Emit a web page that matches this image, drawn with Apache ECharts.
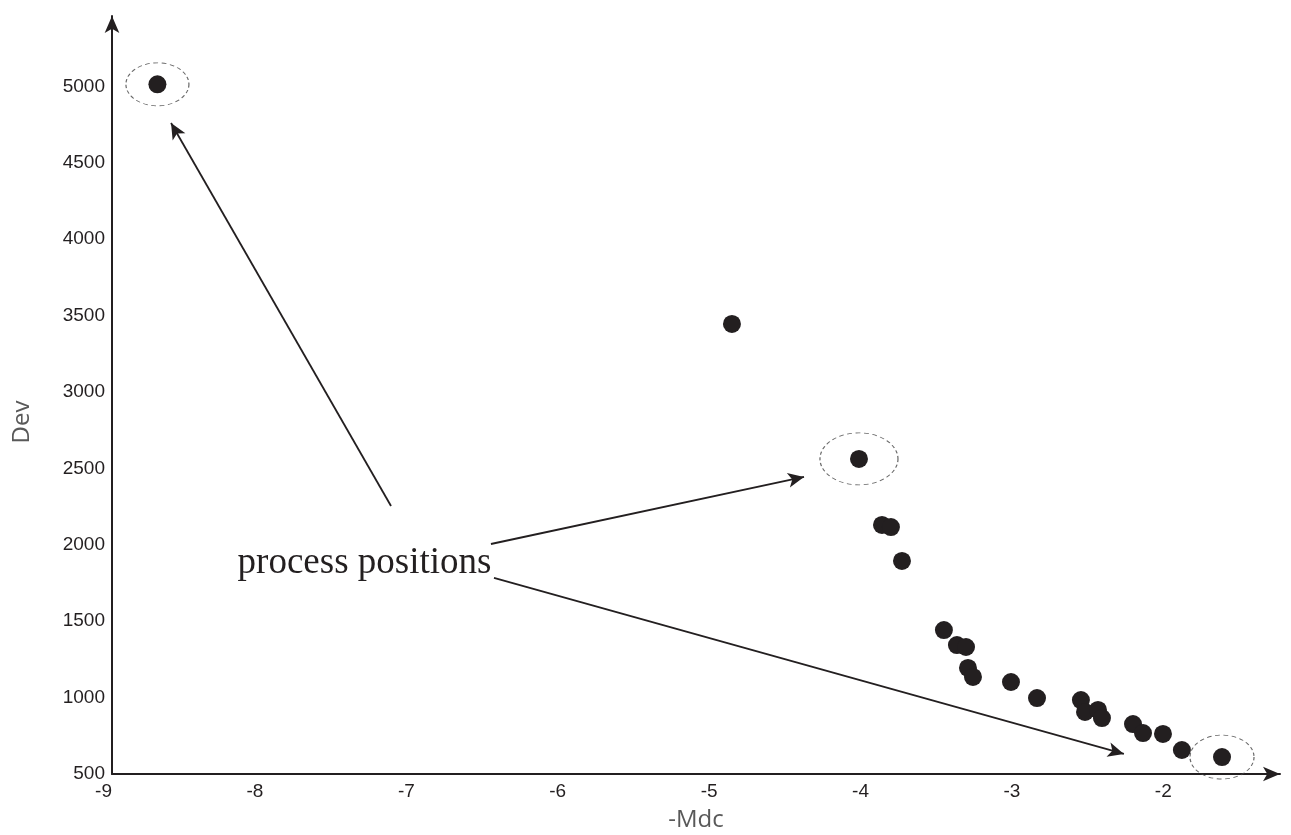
<!DOCTYPE html>
<html>
<head>
<meta charset="utf-8">
<script src="https://cdn.jsdelivr.net/npm/echarts@6/dist/echarts.min.js"></script>
<style>
html,body{margin:0;padding:0;background:#fff;}
#chart{width:1291px;height:835px;}
</style>
</head>
<body>
<div id="chart"></div>
<script>
// ---- data ----
var mdc = [-8.70, -4.905, -4.066, -3.914, -3.855, -3.782, -3.505, -3.419, -3.359, -3.346, -3.313,
           -3.062, -2.890, -2.600, -2.573, -2.487, -2.461, -2.256, -2.190, -2.058, -1.933, -1.668];
var dev = [5013, 3445, 2562, 2130, 2116, 1894, 1442, 1344, 1331, 1194, 1135,
           1102, 997, 984, 906, 919, 866, 827, 768, 762, 657, 611];
// indices of the circled "process positions" points
var circled = [0, 2, 21];
var annotationText = 'process positions';
var annotationAt = [-7.332, 1881];
// arrows: start and end points in data units
var arrowStarts = [[-7.157, 2254], [-6.497, 2005], [-6.477, 1783]];
var arrowEnds = [[-8.610, 4760], [-4.429, 2444], [-2.316, 631]];
var xTicks = [-9, -8, -7, -6, -5, -4, -3, -2];
var yTicks = [500, 1000, 1500, 2000, 2500, 3000, 3500, 4000, 4500, 5000];
var xName = '-Mdc';
var yName = 'Dev';

// ---- build ----
var points = mdc.map(function (x, i) { return [x, dev[i]]; });
var ellipseSizes = [[63, 43], [78, 52], [64, 44]];
var ellipses = circled.map(function (idx, k) {
  return { value: points[idx], symbolSize: ellipseSizes[k] };
});
var arrows = arrowStarts.map(function (s, i) {
  return [{ coord: s }, { coord: arrowEnds[i] }];
});

var chart = echarts.init(document.getElementById('chart'), null, { renderer: 'canvas' });
var axisColor = '#231f20';
var labelFont = "'Liberation Sans', Arial, Helvetica, sans-serif";
chart.setOption({
  animation: false,
  backgroundColor: '#ffffff',
  grid: { left: 112, right: 11, top: 16, bottom: 61, containLabel: false, outerBoundsMode: 'none' },
  xAxis: {
    type: 'value', min: -9, max: -1.285, interval: 1,
    axisLine: { show: true, lineStyle: { color: axisColor, width: 2 }, symbol: ['none', 'arrow'], symbolSize: [11, 17] },
    axisTick: { show: false },
    splitLine: { show: false },
    axisLabel: {
      color: axisColor, fontFamily: labelFont, fontSize: 19,
      align: 'right', margin: 8,
      customValues: xTicks,
      formatter: function (v) { return String(v); }
    },
    name: xName, nameLocation: 'middle', nameGap: 34,
    nameTextStyle: { color: '#595959', fontFamily: "'Open Sans', sans-serif", fontSize: 24 }
  },
  yAxis: {
    type: 'value', min: 500, max: 5460, interval: 500,
    axisLine: { show: true, lineStyle: { color: axisColor, width: 2 }, symbol: ['none', 'arrow'], symbolSize: [11, 17] },
    axisTick: { show: false },
    splitLine: { show: false },
    axisLabel: {
      color: axisColor, fontFamily: labelFont, fontSize: 19,
      margin: 7,
      customValues: yTicks,
      formatter: function (v) { return String(v); }
    }
  },
  graphic: [{
    type: 'text', x: 22, y: 422, rotation: Math.PI / 2,
    style: { text: yName, fill: '#595959', font: "24px 'Open Sans', sans-serif", align: 'center', verticalAlign: 'middle' }
  }],
  series: [{
    type: 'scatter',
    data: points,
    symbol: 'circle',
    symbolSize: 18,
    itemStyle: { color: '#231f20', opacity: 1 },
    z: 3
  }, {
    type: 'scatter',
    data: ellipses,
    symbol: 'circle',
    itemStyle: { color: 'rgba(0,0,0,0)', borderColor: '#444', borderWidth: 1, borderType: [4, 3] },
    silent: true,
    z: 2,
    markLine: {
      silent: true,
      symbol: ['none', 'arrow'],
      symbolSize: [11, 16],
      label: { show: false },
      lineStyle: { color: axisColor, width: 1.8, type: 'solid' },
      data: arrows
    },
    markPoint: {
      silent: true,
      symbol: 'circle',
      symbolSize: 0,
      data: [{ coord: annotationAt }],
      label: {
        show: true, position: 'inside', formatter: annotationText,
        color: axisColor, fontFamily: "'Liberation Serif', 'Times New Roman', serif", fontSize: 37
      }
    }
  }]
});
</script>
</body>
</html>
